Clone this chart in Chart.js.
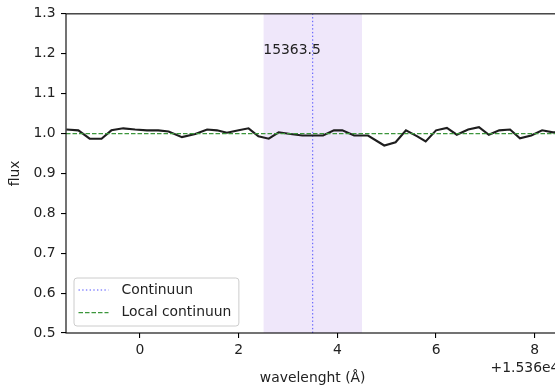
<!DOCTYPE html>
<html>
<head>
<meta charset="utf-8">
<script src="https://cdn.jsdelivr.net/npm/chart.js@4/dist/chart.umd.min.js"></script>
<style>
    html, body { margin: 0; padding: 0; background: #fff; overflow: hidden; }
    #wrap { position: absolute; left: 0; top: 0; width: 600px; height: 390px; }
</style>
</head>
<body>
<div id="wrap"><canvas id="specChart" width="600" height="390"></canvas></div>
<script>
// Line window
const lineCenter = 15363.5;
const shadeRange = [15362.5, 15364.5];
const xRange = [15358.5, 15368.5];
const yRange = [0.5, 1.3];
const continuumLevel = 1.0;

// Axis ticks
const xOffset = 15360;
const offsetLabel = '+1.536e4';
const xTicks = [15360, 15362, 15364, 15366, 15368];
const yTicks = [0.5, 0.6, 0.7, 0.8, 0.9, 1.0, 1.1, 1.2, 1.3];

// Annotation
const annotationText = '15363.5';
const annotationY = 1.2;

// Spectrum
const wavelength = [
    15358.51, 15358.75, 15358.98, 15359.22, 15359.42, 15359.66, 15359.90, 15360.14,
    15360.37, 15360.58, 15360.85, 15361.12, 15361.36, 15361.56, 15361.76, 15362.00,
    15362.20, 15362.40, 15362.61, 15362.81, 15363.05, 15363.29, 15363.49, 15363.71,
    15363.93, 15364.10, 15364.34, 15364.62, 15364.95, 15365.18, 15365.39, 15365.62,
    15365.79, 15366.00, 15366.22, 15366.42, 15366.65, 15366.87, 15367.07, 15367.28,
    15367.50, 15367.70, 15367.93, 15368.15, 15368.37, 15368.59
];
const flux = [
    1.010, 1.008, 0.987, 0.987, 1.008, 1.013, 1.010, 1.008,
    1.008, 1.005, 0.991, 0.999, 1.010, 1.008, 1.002, 1.008,
    1.013, 0.993, 0.987, 1.003, 0.999, 0.995, 0.995, 0.995,
    1.008, 1.008, 0.995, 0.995, 0.970, 0.978, 1.008, 0.993,
    0.980, 1.008, 1.014, 0.997, 1.010, 1.016, 0.997, 1.008,
    1.010, 0.988, 0.995, 1.008, 1.003, 1.003
];

const FONT = 'DejaVu Sans';
const FS = 13.9;
const TEXT = '#222';

// axes frame, annotation text, offset text and legend
const extrasPlugin = {
    id: 'extras',
    afterDatasetsDraw(chart) {
        const { ctx, chartArea: a, scales } = chart;
        ctx.save();

        // frame
        ctx.strokeStyle = '#000';
        ctx.lineWidth = 1.1;
        ctx.setLineDash([]);
        ctx.strokeRect(a.left, a.top, a.right - a.left, a.bottom - a.top);

        // annotation
        ctx.font = `${FS}px "${FONT}"`;
        ctx.fillStyle = TEXT;
        ctx.textAlign = 'left';
        ctx.textBaseline = 'alphabetic';
        ctx.fillText(annotationText, scales.x.getPixelForValue(shadeRange[0]), scales.y.getPixelForValue(annotationY));

        // offset text
        ctx.textAlign = 'right';
        ctx.textBaseline = 'middle';
        ctx.fillText(offsetLabel, a.right, 368);

        // legend
        const items = chart.data.datasets.filter(d => d.label);
        const bottom = a.bottom - 7;
        const top = bottom - 48;
        const left = a.left + 8;
        const textX = left + 47.5;
        const widest = Math.max(...items.map(d => ctx.measureText(d.label).width));
        const right = textX + widest + 7.5;

        ctx.beginPath();
        ctx.roundRect(left, top, right - left, bottom - top, 3);
        ctx.fillStyle = 'rgba(255,255,255,0.8)';
        ctx.fill();
        ctx.strokeStyle = '#cccccc';
        ctx.lineWidth = 1;
        ctx.stroke();

        items.forEach((d, i) => {
            const y = top + 12 + i * 22.7;
            ctx.beginPath();
            ctx.strokeStyle = d.borderColor;
            ctx.lineWidth = d.borderWidth;
            ctx.setLineDash(d.borderDash || []);
            ctx.moveTo(left + 4.5, y);
            ctx.lineTo(left + 34.5, y);
            ctx.stroke();
            ctx.setLineDash([]);
            ctx.fillStyle = TEXT;
            ctx.textAlign = 'left';
            ctx.textBaseline = 'middle';
            ctx.fillText(d.label, textX, y);
        });

        ctx.restore();
    }
};

const tickFont = { family: FONT, size: FS };

new Chart(document.getElementById('specChart'), {
    type: 'line',
    data: {
        datasets: [
            {
                label: '',
                data: wavelength.map((w, i) => ({ x: w, y: flux[i] })),
                borderColor: '#1e1e1e',
                borderWidth: 2.1,
                pointRadius: 0,
                order: 1
            },
            {
                label: 'Continuun',
                data: [{ x: lineCenter, y: yRange[0] }, { x: lineCenter, y: yRange[1] }],
                borderColor: 'rgb(80, 80, 255)',
                borderWidth: 1,
                borderDash: [1.4, 2.3],
                pointRadius: 0,
                order: 2
            },
            {
                label: 'Local continuun',
                data: [{ x: xRange[0], y: continuumLevel }, { x: xRange[1], y: continuumLevel }],
                borderColor: 'rgb(60, 150, 60)',
                borderWidth: 1.2,
                borderDash: [4.5, 2],
                pointRadius: 0,
                order: 0
            },
            {
                label: '',
                data: [{ x: shadeRange[0], y: yRange[1] }, { x: shadeRange[1], y: yRange[1] }],
                fill: 'start',
                backgroundColor: 'rgb(239, 231, 250)',
                borderColor: 'transparent',
                borderWidth: 1,
                pointRadius: 0,
                order: 9
            }
        ]
    },
    options: {
        responsive: false,
        animation: false,
        devicePixelRatio: 1,
        layout: { padding: { left: 0, right: 40.6, top: 13, bottom: 0 } },
        plugins: {
            legend: { display: false },
            tooltip: { enabled: false }
        },
        scales: {
            x: {
                type: 'linear',
                min: xRange[0],
                max: xRange[1],
                afterBuildTicks: s => { s.ticks = xTicks.map(v => ({ value: v })); },
                afterFit: s => { s.height = 57; },
                grid: { drawOnChartArea: false, drawTicks: true, tickLength: 5, color: '#000', tickColor: '#000', lineWidth: 1.1 },
                border: { display: false },
                ticks: {
                    callback: v => String(v - xOffset),
                    color: TEXT, font: tickFont, padding: 4,
                    maxRotation: 0, autoSkip: false
                },
                title: {
                    display: true, text: 'wavelenght (Å)', color: TEXT, font: tickFont,
                    padding: { top: 0, bottom: 3.7 }
                }
            },
            y: {
                min: yRange[0],
                max: yRange[1],
                afterBuildTicks: s => { s.ticks = yTicks.map(v => ({ value: v })); },
                afterFit: s => { s.width = 66; },
                grid: { drawOnChartArea: false, drawTicks: true, tickLength: 5, color: '#000', tickColor: '#000', lineWidth: 1.1 },
                border: { display: false },
                ticks: {
                    callback: v => v.toFixed(1),
                    color: TEXT, font: tickFont, padding: 5.5
                },
                title: {
                    display: true, text: 'flux', color: TEXT, font: tickFont,
                    padding: { top: 6.7, bottom: 0 }
                }
            }
        }
    },
    plugins: [extrasPlugin]
});
</script>
</body>
</html>
